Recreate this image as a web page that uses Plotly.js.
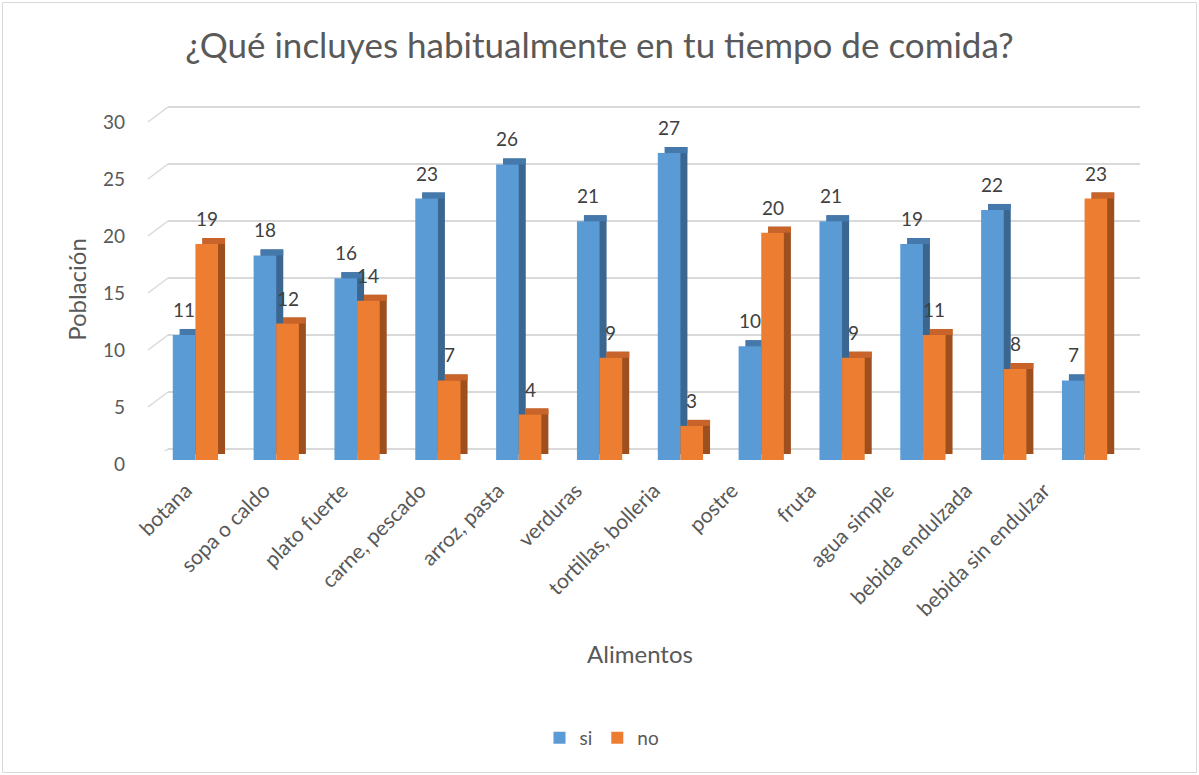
<!DOCTYPE html>
<html>
<head>
<meta charset="utf-8">
<script src="https://cdn.plot.ly/plotly-3.0.1.min.js"></script>
<style>body{margin:0;padding:0;background:#fff;} #chart{width:1199px;height:775px;}</style>
</head>
<body>
<div id="chart"></div>
<script>
// ---- data ----
const categories = ["botana","sopa o caldo","plato fuerte","carne, pescado","arroz, pasta","verduras","tortillas, bolleria","postre","fruta","agua simple","bebida endulzada","bebida sin endulzar"];
const siValues = [11,18,16,23,26,21,27,10,21,19,22,7];
const noValues = [19,12,14,7,4,9,3,20,9,11,8,23];
const yTicks = [0,5,10,15,20,25,30];

// ---- geometry (pixels) ----
const W = 1199, H = 775;
const plotL = 148, plotR = 1140, plotT = 100, plotB = 470;
const pw = plotR - plotL, ph = plotB - plotT;
const fx = px => (px - plotL) / pw;
const fy = py => (plotB - py) / ph;

const idx = categories.map((c, i) => i);
const barW = 0.28;          // in category units
const depthX = 7 / 80.83;   // category units
const depthY = 6 / 11.36;   // value units
const depthArr = idx.map(() => depthY);

const colors = {
  siFront: '#5B9BD5', siTop: '#4679AB', siSide: '#3B6690',
  noFront: '#ED7D31', noTop: '#C8632A', noSide: '#9E4F1E'
};

function barSet(vals, off, front, top, side, name) {
  return [
    {type:'bar', x: idx, y: vals, base: depthArr, offset: off + depthX, width: barW,
     marker:{color: side, line:{width:0}}, xaxis:'x2', yaxis:'y2', showlegend:false, hoverinfo:'skip'},
    {type:'bar', x: idx, y: depthArr, base: vals, offset: off + depthX, width: barW,
     marker:{color: top, line:{width:0}}, xaxis:'x2', yaxis:'y2', showlegend:false, hoverinfo:'skip'},
    {type:'bar', x: idx, y: vals, offset: off, width: barW, name: name,
     marker:{color: front, line:{width:0}}, xaxis:'x2', yaxis:'y2'}
  ];
}

// invisible trace to keep grid subplot alive
const gridTrace = {type:'scatter', x:[0], y:[0], mode:'markers', marker:{opacity:0}, showlegend:false, hoverinfo:'skip', xaxis:'x', yaxis:'y'};

const data = [gridTrace]
  .concat(barSet(siValues, -barW, colors.siFront, colors.siTop, colors.siSide, 'si'))
  .concat(barSet(noValues, 0, colors.noFront, colors.noTop, colors.noSide, 'no'));

// data labels
const labelFont = {family:'Lato, sans-serif', size:19, color:'#404040'};
const annotations = [];
siValues.forEach((v, i) => annotations.push({x: i - barW/2, y: v, xref:'x2', yref:'y2', text: String(v),
  showarrow:false, yanchor:'bottom', yshift: 12, font: labelFont}));
noValues.forEach((v, i) => annotations.push({x: i + barW/2, y: v, xref:'x2', yref:'y2', text: String(v),
  showarrow:false, yanchor:'bottom', yshift: 12, font: labelFont}));

// back grid y scale: 0 at 449px, 30 at 107px
const gs = (449 - 107) / 30;
const gPad = 0.2;

// front gridline stubs
const shapes = yTicks.map(t => ({type:'line', xref:'paper', yref:'y', ysizemode:'pixel', yanchor: t,
  x0: 0, x1: fx(168), y0: -15, y1: 0, line:{color:'#d9d9d9', width:1.5}}));
// chart border
shapes.push({type:'rect', xref:'paper', yref:'paper', x0: fx(2.5), x1: fx(1196.5), y0: fy(772.5), y1: fy(2.5),
  line:{color:'#d9d9d9', width:1}, fillcolor:'rgba(0,0,0,0)'});

// label axis ticks spaced 78px
const labStep = 78, labFirst = 186;
const gx0 = 168, gx1 = 1140;
const r0 = -(labFirst - gx0) / labStep;
const r1 = r0 + (gx1 - gx0) / labStep;

const layout = {
  width: W, height: H,
  margin: {l: plotL, r: W - plotR, t: plotT, b: H - plotB, pad: 0},
  paper_bgcolor: '#ffffff', plot_bgcolor: 'rgba(0,0,0,0)',
  font: {family: 'Lato, sans-serif', color: '#595959'},
  title: {text: '¿Qué incluyes habitualmente en tu tiempo de comida?', x: 0.5, xref:'container', xanchor:'center',
    y: 1 - 46/H, yref:'container', yanchor:'middle', font:{size: 35, color:'#595959', family:'Lato, sans-serif'}},
  barmode: 'overlay',
  xaxis: {domain: [fx(gx0), 1], range: [r0, r1], anchor: 'y', tickmode:'array', tickvals: idx, ticktext: categories,
    tickangle: -45, ticks:'', showgrid:false, zeroline:false, showline:false, ticklabelstandoff: 22,
    tickfont:{size:21, color:'#595959'}},
  yaxis: {domain: [fy(449 + gPad*gs), fy(107 - gPad*gs)], range: [-gPad, 30 + gPad], anchor:'x', tickvals: yTicks, showgrid: true,
    gridcolor:'#d9d9d9', gridwidth: 1.5, zeroline:false, showline:false, ticks:'',
    ticklabelshift: 15, ticklabelstandoff: 42, tickfont:{size:19, color:'#595959'}},
  xaxis2: {domain: [fx(155), fx(1125)], range: [-0.5, 11.5], anchor:'y2', visible:true, showticklabels:false,
    showgrid:false, zeroline:false, showline:false, ticks:'',
    title:{text:'Alimentos', font:{size:24, color:'#595959'}, standoff: 186}},
  yaxis2: {domain: [fy(460), fy(119)], range: [0, 30], anchor:'x2', showticklabels:false, showgrid:false,
    zeroline:false, showline:false, ticks:'',
    title:{text:'Población', font:{size:24, color:'#595959'}, standoff: 60}},
  legend: {orientation:'h', x: fx(602), xanchor:'center', y: fy(738), yanchor:'middle',
    font:{size:19, color:'#595959'}, itemclick:false, itemwidth: 30},
  annotations: annotations,
  shapes: shapes,
  showlegend: true
};

Plotly.newPlot('chart', data, layout, {displayModeBar:false, staticPlot:true});
</script>
</body>
</html>
